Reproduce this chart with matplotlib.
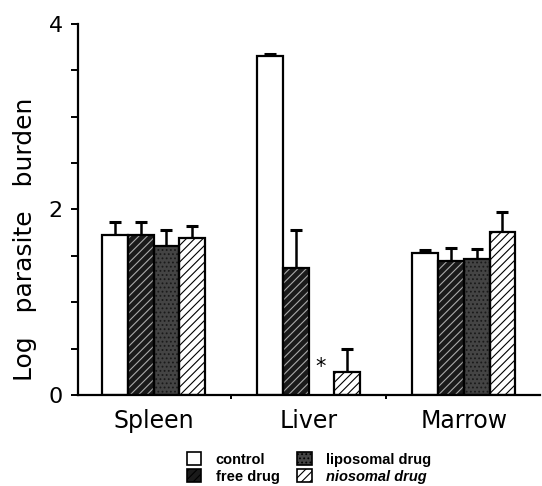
import matplotlib.pyplot as plt
import matplotlib.patches as mpatches
import numpy as np

# ── Data ───────────────────────────────────────────────────────────────────
organs = ['Spleen', 'Liver', 'Marrow']
groups = ['control', 'free drug', 'liposomal drug', 'niosomal drug']

control   = [1.72, 3.65, 1.53]
free_drug = [1.72, 1.37, 1.44]
liposomal = [1.61, 0.00, 1.47]
niosomal  = [1.69, 0.25, 1.76]

control_err   = [0.15, 0.03, 0.03]
free_err      = [0.14, 0.41, 0.14]
liposomal_err = [0.17, 0.00, 0.10]
niosomal_err  = [0.13, 0.25, 0.21]

# ── Style ──────────────────────────────────────────────────────────────────
plt.rcParams['hatch.linewidth'] = 0.8
styles = [
    dict(facecolor='white', hatch=None, hcolor='black'),
    dict(facecolor='#1a1a1a', hatch='////', hcolor='#aaaaaa'),
    dict(facecolor='#444444', hatch='....', hcolor='#1a1a1a'),
    dict(facecolor='white', hatch='////', hcolor='black'),
]

fig = plt.figure(figsize=(5.42, 4.86), dpi=100)
ax = fig.add_axes([0.144, 0.187, 0.853, 0.764])

x = np.arange(len(organs))
w = 0.166
series = [control, free_drug, liposomal, niosomal]
errs = [control_err, free_err, liposomal_err, niosomal_err]

for i, (vals, err, st) in enumerate(zip(series, errs, styles)):
    pos = x + (i - 1.5) * w
    keep = np.array(vals) > 0
    pos, v, e = pos[keep], np.array(vals)[keep], np.array(err)[keep]
    ax.bar(pos, v, w, color=st['facecolor'], hatch=st['hatch'],
           edgecolor=st['hcolor'], linewidth=0, zorder=2)
    ax.bar(pos, v, w, fill=False, edgecolor='black', linewidth=1.6, zorder=3)
    ax.errorbar(pos, v, yerr=[np.zeros_like(e), e], fmt='none',
                ecolor='black', elinewidth=1.8, capsize=4.5, capthick=2.2,
                zorder=1)

ax.text(x[1] + 0.08, 0.3, '*', fontsize=15, ha='center', va='center')

# ── Axes ───────────────────────────────────────────────────────────────────
ax.set_xlim(-0.487, 2.494)
ax.set_ylim(0, 4)
for s in ['top', 'right']:
    ax.spines[s].set_visible(False)
ax.spines['left'].set_linewidth(1.6)
ax.spines['bottom'].set_linewidth(1.6)

ax.set_yticks([0, 2, 4])
ax.set_yticklabels(['0', '2', '4'], fontsize=16)
ax.set_yticks(np.arange(0, 4.01, 0.5), minor=True)
ax.tick_params(axis='y', which='both', direction='out', length=5, width=1.4, pad=6)

ax.set_xticks(x)
ax.set_xticklabels(organs, fontsize=17)
ax.tick_params(axis='x', which='major', length=0, pad=10)
ax.set_xticks([0.5, 1.5], minor=True)
ax.tick_params(axis='x', which='minor', direction='out', length=3, width=1.4)

fig.text(0.046, 0.507, 'Log   parasite   burden', rotation=90, fontsize=18,
         ha='center', va='center')

# ── Legend ─────────────────────────────────────────────────────────────────
handles = [mpatches.Patch(facecolor=st['facecolor'], hatch=st['hatch'],
                          edgecolor='black', linewidth=1.2) for st in styles]
leg = fig.legend(handles, groups, ncol=2, loc='lower left',
                 bbox_to_anchor=(0.32, -0.022), frameon=False,
                 prop=dict(family='Liberation Sans', weight='bold', size=10.5),
                 handlelength=1.0, handleheight=1.0, handletextpad=1.0,
                 columnspacing=1.2, labelspacing=0.15)
leg.get_texts()[3].set_style('italic')

plt.savefig('out.png', dpi=100)
